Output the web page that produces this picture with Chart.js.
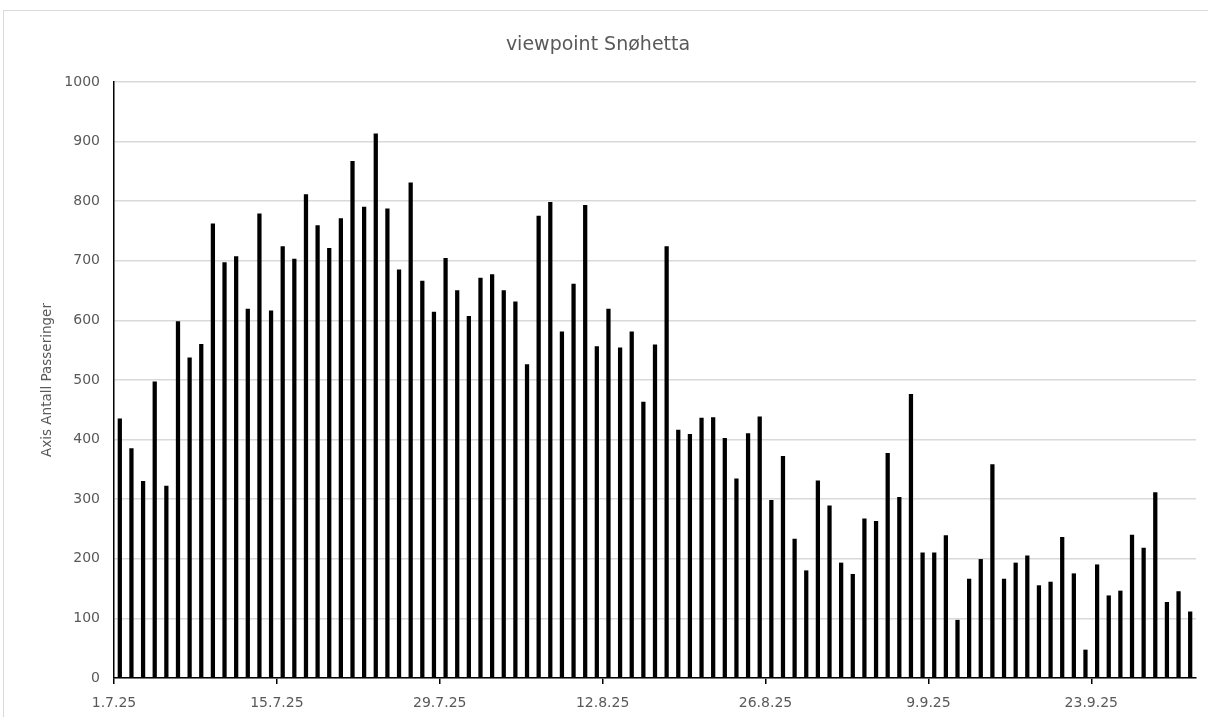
<!DOCTYPE html>
<html>
<head>
<meta charset="utf-8">
<title>viewpoint Snøhetta</title>
<script src="https://cdn.jsdelivr.net/npm/chart.js@4.4.1/dist/chart.umd.min.js"></script>
<style>
  html, body { margin: 0; padding: 0; background: #fff; }
  #wrap { position: relative; width: 1208px; height: 717px; overflow: hidden; }
  #frame { position: absolute; left: 3px; top: 10px; width: 1220px; height: 720px; border: 1px solid #d9d9d9; pointer-events: none; }
</style>
</head>
<body>
<div id="wrap">
  <canvas id="chart" width="1208" height="717"></canvas>
  <div id="frame"></div>
</div>
<script>
// daily passings, 1.7.25 - 1.10.25
const passings = [
  435, 385, 330, 497, 322, 598, 537, 560, 762, 697,
  707, 619, 779, 616, 724, 703, 811, 759, 721, 771,
  867, 790, 913, 787, 685, 831, 666, 614, 704, 650,
  607, 671, 677, 650, 631, 526, 775, 798, 581, 661,
  793, 556, 619, 554, 581, 463, 559, 724, 416, 409,
  436, 437, 402, 334, 410, 438, 298, 372, 233, 180,
  331, 289, 193, 174, 267, 263, 377, 303, 476, 210,
  210, 239, 97, 166, 199, 358, 166, 193, 205, 155,
  161, 236, 175, 47, 190, 138, 146, 240, 218, 311,
  127, 145, 111
];
const tickDays = [0, 14, 28, 42, 56, 70, 84];
const tickLabels = ['1.7.25', '15.7.25', '29.7.25', '12.8.25', '26.8.25', '9.9.25', '23.9.25'];

const textColor = '#595959';
const fontFamily = "'DejaVu Sans', 'Liberation Sans', sans-serif";

// each day sits in the middle of its own slot on the date axis
const points = passings.map((v, i) => ({ x: i + 0.5, y: v }));

const ctx = document.getElementById('chart').getContext('2d');
new Chart(ctx, {
  type: 'bar',
  data: {
    datasets: [{
      label: 'Antall Passeringer',
      data: points,
      backgroundColor: '#000000',
      borderWidth: 0,
      barThickness: 3.6
    }]
  },
  options: {
    responsive: false,
    animation: false,
    layout: { padding: { left: 0, right: 12, top: 0, bottom: 0 } },
    plugins: {
      legend: { display: false },
      tooltip: { enabled: false },
      title: {
        display: true,
        text: 'viewpoint Snøhetta',
        color: textColor,
        font: { family: fontFamily, size: 19, weight: 'normal' },
        padding: { top: 33.6, bottom: 25.6 }
      }
    },
    scales: {
      x: {
        type: 'linear',
        min: 0,
        max: passings.length,
        offset: false,
        afterBuildTicks: (scale) => {
          scale.ticks = tickDays.map(v => ({ value: v }));
        },
        afterFit: (scale) => { scale.height = 39; },
        grid: {
          offset: false,
          drawOnChartArea: false,
          drawTicks: true,
          tickLength: 6,
          color: '#000000',
          lineWidth: 1.5
        },
        border: { display: true, color: '#000000', width: 1.5 },
        ticks: {
          autoSkip: false,
          maxRotation: 0,
          padding: 11,
          color: textColor,
          font: { family: fontFamily, size: 14 },
          callback: (value) => tickLabels[tickDays.indexOf(value)]
        }
      },
      y: {
        min: 0,
        max: 1000,
        afterFit: (scale) => { scale.width = 114; },
        ticks: {
          stepSize: 100,
          padding: 14,
          color: textColor,
          font: { family: fontFamily, size: 14 },
          callback: (value) => String(value)
        },
        grid: { color: '#d9d9d9', lineWidth: 1.5, drawTicks: false },
        border: { display: true, color: '#000000', width: 1.5 },
        title: {
          display: true,
          text: 'Axis Antall Passeringer',
          color: textColor,
          font: { family: fontFamily, size: 13.5 },
          padding: { top: 39, bottom: 0 }
        }
      }
    }
  }
});
</script>
</body>
</html>
